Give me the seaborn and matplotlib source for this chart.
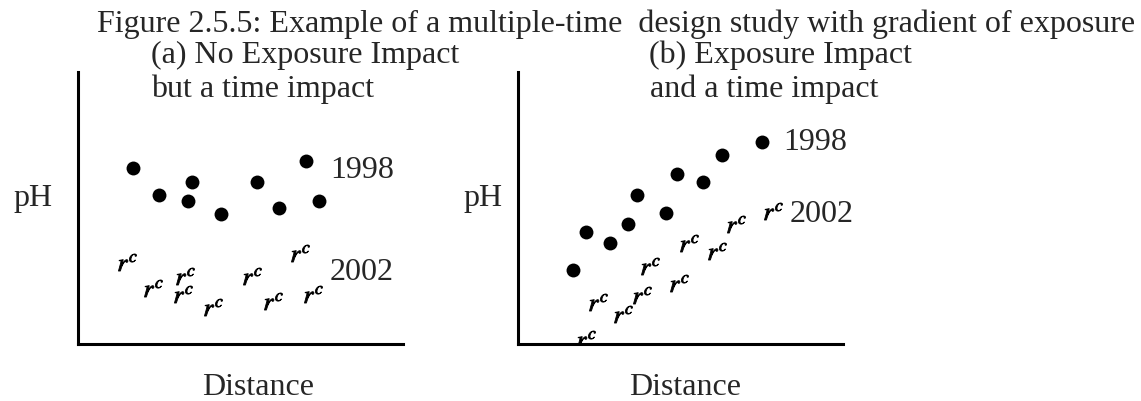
import matplotlib
matplotlib.use('Agg')
import matplotlib.pyplot as plt
import seaborn as sns

W, H = 1141, 402

# (a) no exposure impact, only a time impact
a_dist_1998 = [1.68, 2.50, 3.50, 3.39, 4.39, 5.52, 6.18, 7.01, 7.42]
a_ph_1998 = [6.47, 5.48, 5.97, 5.27, 4.78, 5.97, 4.99, 6.74, 5.27]
a_dist_2002 = [1.50, 2.32, 3.29, 3.24, 4.16, 5.34, 6.01, 6.83, 7.24]
a_ph_2002 = [3.03, 2.05, 2.51, 1.84, 1.35, 2.51, 1.57, 3.33, 1.84]

# (b) exposure impact and a time impact
b_dist_1998 = [1.68, 2.09, 2.83, 3.39, 3.65, 4.54, 4.88, 5.70, 6.27, 7.52]
b_ph_1998 = [2.73, 4.11, 3.71, 4.41, 5.48, 4.81, 6.25, 5.94, 6.95, 7.44]
b_dist_2002 = [2.09, 2.47, 3.24, 3.81, 4.06, 4.95, 5.27, 6.11, 6.70, 7.86]
b_ph_2002 = [0.18, 1.53, 1.10, 1.81, 2.88, 2.24, 3.70, 3.43, 4.41, 4.90]

sns.set_style("white")
plt.rcParams['font.family'] = ['Liberation Serif', 'DejaVu Serif']
plt.rcParams['mathtext.fontset'] = 'stix'

fig = plt.figure(figsize=(W / 100, H / 100), dpi=100)


def px(x, y):
    # pixel position -> figure fraction
    return x / W, 1 - y / H


def panel(left, d98, p98, d02, p02):
    ax = fig.add_axes([left / W, (H - 345) / H, 325 / W, 272 / H])
    sns.scatterplot(x=d98, y=p98, color='black', s=100, linewidth=0, ax=ax)
    sns.scatterplot(x=d02, y=p02, color='black', marker=r'$r^c$', s=170,
                    edgecolor='black', linewidth=0.6, ax=ax)
    ax.set_xlim(0, 10)
    ax.set_ylim(0, 10)
    ax.set_xticks([])
    ax.set_yticks([])
    ax.set_xlabel('')
    ax.set_ylabel('')
    sns.despine(ax=ax)
    for s in ['left', 'bottom']:
        ax.spines[s].set_linewidth(2.2)
        ax.spines[s].set_color('black')
    return ax


panel(78, a_dist_1998, a_ph_1998, a_dist_2002, a_ph_2002)
panel(518, b_dist_1998, b_ph_1998, b_dist_2002, b_ph_2002)

fs = 23
fig.text(*px(97, 32), 'Figure 2.5.5: Example of a multiple-time  design study with gradient of exposure',
         fontsize=fs, va='baseline')
fig.text(*px(151, 63), '(a) No Exposure Impact', fontsize=fs, va='baseline')
fig.text(*px(151, 97), 'but a time impact', fontsize=fs, va='baseline')
fig.text(*px(649, 63), '(b) Exposure Impact', fontsize=fs, va='baseline')
fig.text(*px(650, 97), 'and a time impact', fontsize=fs, va='baseline')

fig.text(*px(13, 206), 'pH', fontsize=fs, va='baseline')
fig.text(*px(463, 206), 'pH', fontsize=fs, va='baseline')
fig.text(*px(202, 395), 'Distance', fontsize=fs, va='baseline')
fig.text(*px(629, 395), 'Distance', fontsize=fs, va='baseline')

fig.text(*px(330, 178), '1998', fontsize=fs, va='baseline')
fig.text(*px(330, 280), '2002', fontsize=fs, va='baseline')
fig.text(*px(783, 150), '1998', fontsize=fs, va='baseline')
fig.text(*px(790, 222), '2002', fontsize=fs, va='baseline')

fig.savefig('out.png', dpi=100)
